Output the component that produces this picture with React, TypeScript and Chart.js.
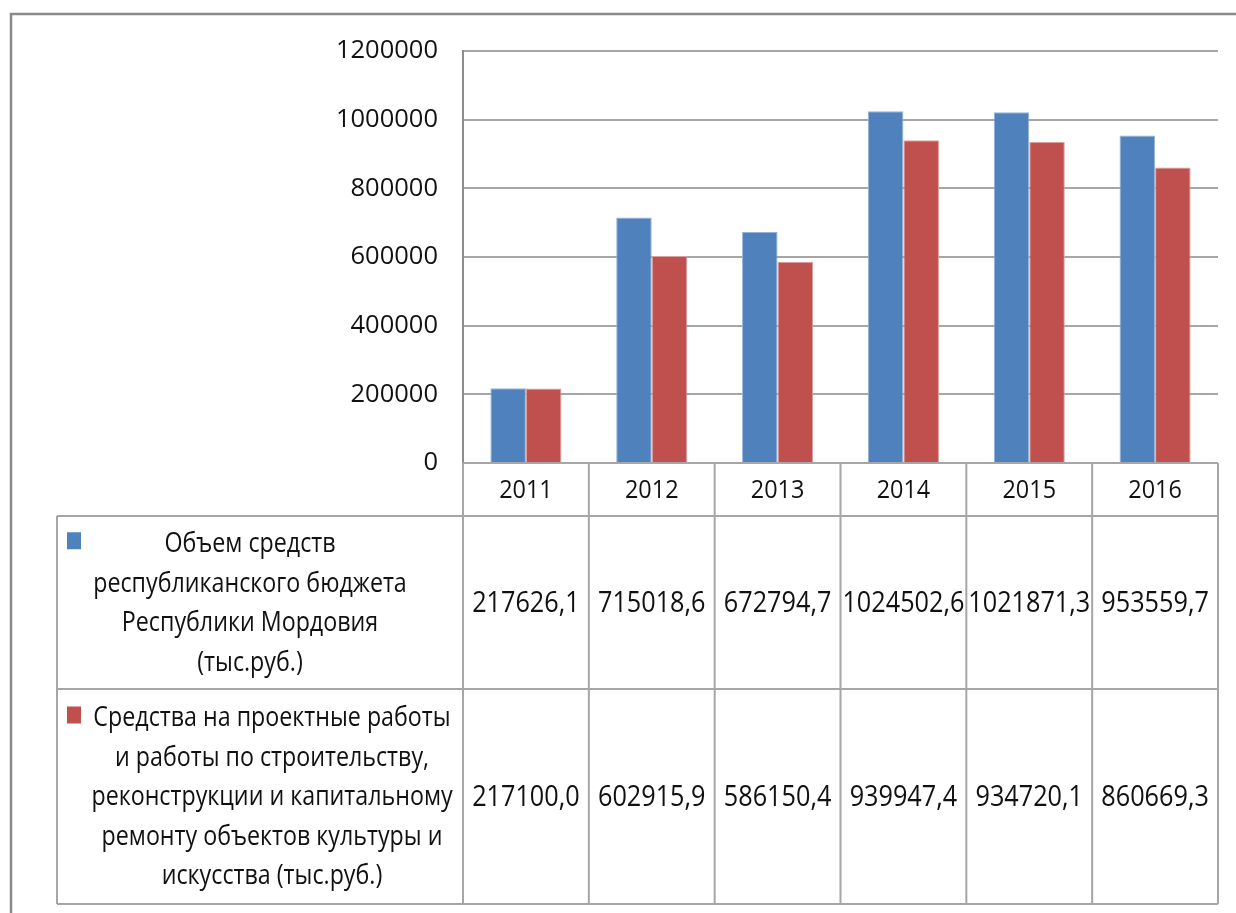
import React, { useEffect, useRef } from 'react';
import { Chart, registerables } from 'chart.js';

Chart.register(...registerables);

// ---------- data ----------
const categories = ['2011', '2012', '2013', '2014', '2015', '2016'];
const budgetValues = [217626.1, 715018.6, 672794.7, 1024502.6, 1021871.3, 953559.7];
const cultureValues = [217100.0, 602915.9, 586150.4, 939947.4, 934720.1, 860669.3];
const budgetLabelLines = ['Объем средств', 'республиканского бюджета', 'Республики Мордовия', '(тыс.руб.)'];
const cultureLabelLines = [
  'Средства на проектные работы',
  'и работы по строительству,',
  'реконструкции и капитальному',
  'ремонту объектов культуры и',
  'искусства (тыс.руб.)',
];
const yTickValues = [0, 200000, 400000, 600000, 800000, 1000000, 1200000];

// ---------- styles ----------
const FONT = '"Open Sans", "DejaVu Sans", sans-serif';
const BLUE = '#4F81BD';
const RED = '#C0504D';
const GRID = '#A6A6A6';
const TEXT = '#111111';

const formatValue = (v: number) => v.toFixed(1).replace('.', ',');

function scaledText(ctx: CanvasRenderingContext2D, text: string, x: number, y: number, sx: number) {
  ctx.save();
  ctx.translate(x, y);
  ctx.scale(sx, 1);
  ctx.fillText(text, 0, 0);
  ctx.restore();
}

const tablePlugin = {
  id: 'dataTable',
  beforeDraw(chart: any) {
    const ctx = chart.ctx;
    ctx.save();
    ctx.fillStyle = '#ffffff';
    ctx.fillRect(0, 0, chart.width, chart.height);
    ctx.strokeStyle = '#8a8a8a';
    ctx.lineWidth = 2.5;
    ctx.strokeRect(11, 14, 1400, 1200);
    ctx.restore();
  },
  afterDraw(chart: any) {
    const { ctx, chartArea } = chart;
    const xs = chart.scales.x;
    const n = chart.data.labels.length;
    const bounds: number[] = [];
    for (let i = 0; i <= n; i++) {
      if (i === 0) bounds.push(chartArea.left);
      else if (i === n) bounds.push(chartArea.right);
      else bounds.push((xs.getPixelForValue(i - 1) + xs.getPixelForValue(i)) / 2);
    }
    const top = chartArea.bottom;
    const headerBottom = top + 53;
    const row1Bottom = headerBottom + 173;
    const row2Bottom = row1Bottom + 215;
    const tableLeft = 57;
    const right = chartArea.right;

    ctx.save();
    ctx.strokeStyle = GRID;
    ctx.lineWidth = 2;
    ctx.beginPath();
    ctx.moveTo(chartArea.left, top); ctx.lineTo(right, top);
    [headerBottom, row1Bottom, row2Bottom].forEach((y) => {
      ctx.moveTo(tableLeft, y); ctx.lineTo(right, y);
    });
    ctx.moveTo(tableLeft, headerBottom); ctx.lineTo(tableLeft, row2Bottom);
    bounds.forEach((bx) => { ctx.moveTo(bx, top); ctx.lineTo(bx, row2Bottom); });
    ctx.stroke();

    ctx.fillStyle = TEXT;
    ctx.textAlign = 'center';
    ctx.textBaseline = 'middle';
    // header
    ctx.font = `26px ${FONT}`;
    chart.data.labels.forEach((lab: string, i: number) => {
      scaledText(ctx, lab, (bounds[i] + bounds[i + 1]) / 2, (top + headerBottom) / 2 + 1, 0.9);
    });
    // values
    ctx.font = `29px ${FONT}`;
    const rows = [
      { top: headerBottom, bottom: row1Bottom },
      { top: row1Bottom, bottom: row2Bottom },
    ];
    chart.data.datasets.forEach((ds: any, r: number) => {
      const cy = (rows[r].top + rows[r].bottom) / 2;
      ds.data.forEach((v: number, i: number) => {
        scaledText(ctx, formatValue(v), (bounds[i] + bounds[i + 1]) / 2, cy + 1, 0.87);
      });
    });
    // legend labels
    const labelSets = [budgetLabelLines, cultureLabelLines];
    const centers = [250, 272];
    const lineH = 39.5;
    ctx.font = `28px ${FONT}`;
    labelSets.forEach((lines, r) => {
      const cy = (rows[r].top + rows[r].bottom) / 2;
      const firstY = cy - ((lines.length - 1) * lineH) / 2;
      ctx.fillStyle = chart.data.datasets[r].backgroundColor;
      ctx.fillRect(67, firstY - 11, 14, 17);
      ctx.fillStyle = TEXT;
      lines.forEach((ln, k) => {
        scaledText(ctx, ln, centers[r], firstY + k * lineH + 1, 0.83);
      });
    });
    ctx.restore();
  },
};

export default function App() {
  const ref = useRef<HTMLCanvasElement | null>(null);
  useEffect(() => {
    document.body.style.margin = '0';
    const canvas = ref.current!;
    const chart = new Chart(canvas, {
      type: 'bar',
      data: {
        labels: categories,
        datasets: [
          {
            label: budgetLabelLines.join(' '),
            data: budgetValues,
            backgroundColor: BLUE,
            borderColor: '#95B3DA',
            borderWidth: 1,
            categoryPercentage: 0.565,
            barPercentage: 1.0,
          },
          {
            label: cultureLabelLines.join(' '),
            data: cultureValues,
            backgroundColor: RED,
            borderColor: '#DCA09E',
            borderWidth: 1,
            categoryPercentage: 0.565,
            barPercentage: 1.0,
          },
        ],
      },
      options: {
        responsive: false,
        animation: false,
        devicePixelRatio: 1,
        layout: { padding: { left: 0, right: 18, top: 51, bottom: 450 } },
        plugins: { legend: { display: false }, tooltip: { enabled: false } },
        scales: {
          x: { display: false },
          y: {
            min: 0,
            max: 1200000,
            afterFit: (scale: any) => { scale.width = 463; },
            afterBuildTicks: (scale: any) => { scale.ticks = yTickValues.map((v) => ({ value: v })); },
            ticks: {
              padding: 25,
              color: TEXT,
              font: { family: FONT, size: 25.5 },
              callback: (v: any) => String(v),
            },
            grid: { color: GRID, lineWidth: 2, drawTicks: false },
            border: { display: true, color: '#8c8c8c', width: 2 },
          },
        },
      },
      plugins: [tablePlugin],
    });
    return () => chart.destroy();
  }, []);
  return (
    <div style={{ width: 1236, height: 913, position: 'relative' }}>
      <canvas ref={ref} width={1236} height={913} style={{ display: 'block' }} />
    </div>
  );
}
